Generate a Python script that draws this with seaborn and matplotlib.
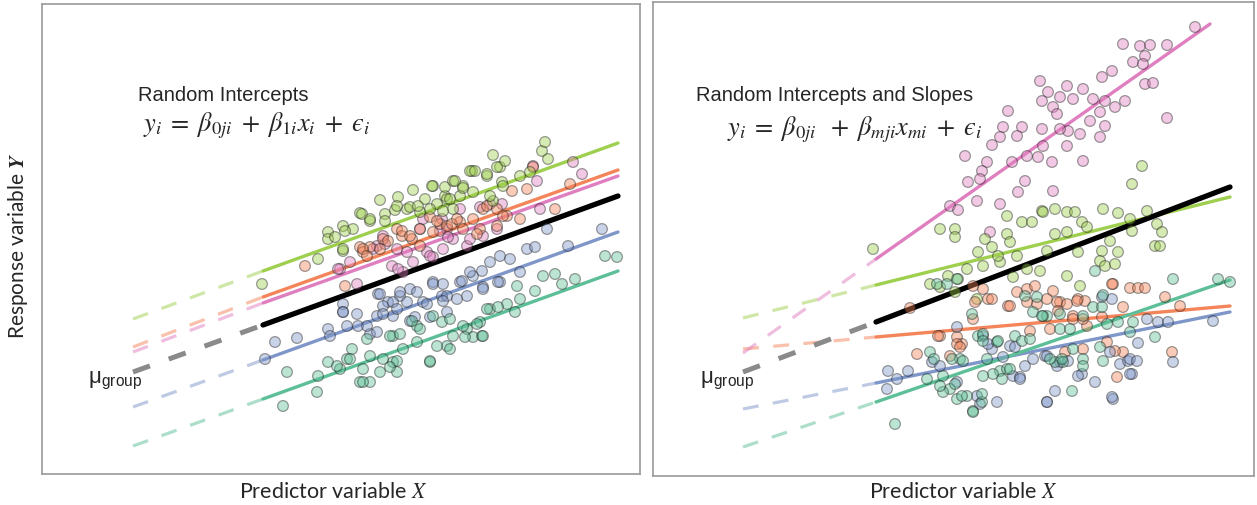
import pandas as pd
import matplotlib.pyplot as plt
import seaborn as sns

# Colores de grupo (paleta tipo Set2)
colores = {
    "green": "#9fcf4e",
    "orange": "#f4855a",
    "pink": "#e07fc0",
    "blue": "#7f96c9",
    "teal": "#5dbf97",
    "black": "#000000",
}
orden = ["green", "orange", "pink", "black", "blue", "teal"]

# ---- Panel izquierdo: interceptos aleatorios ----
# rectas: x inicio discontinuo, x inicio continuo, x final, y en esos tres puntos
izq_x_ini = [133, 133, 133, 133, 133, 133]
izq_x_med = [263, 263, 263, 263, 263, 263]
izq_x_fin = [618, 618, 618, 618, 618, 618]
izq_y_ini = [320, 348, 353, 373, 408, 447]
izq_y_med = [272, 298, 304, 326, 361, 400]
izq_y_fin = [144, 171, 177, 197, 233, 272]

izq_green = [(262, 285), (318, 260), (328, 233), (328, 240), (343, 227), (353, 230), (360, 214), (370, 222),
             (343, 252), (380, 201), (398, 198), (395, 211), (407, 210), (413, 191), (420, 213), (433, 187),
             (445, 197), (445, 188), (447, 200), (453, 182), (453, 210), (460, 197), (463, 187), (472, 172),
             (473, 193), (487, 177), (493, 156), (493, 202), (500, 168), (502, 183), (505, 162), (520, 177),
             (530, 173), (542, 152), (545, 143), (548, 160), (385, 215), (425, 200), (437, 205),
             (470, 172), (475, 172), (487, 175), (497, 168), (432, 187), (455, 182), (463, 189), (410, 208),
             (418, 207), (397, 207), (430, 210), (443, 212), (362, 215), (370, 220), (385, 222), (345, 232),
             (335, 238), (343, 250), (450, 200), (490, 197), (503, 187)]
izq_orange = [(305, 267), (345, 287), (360, 248), (363, 253), (370, 248), (383, 240), (397, 230), (402, 237),
              (412, 240), (420, 230), (433, 233), (440, 225), (447, 227), (460, 223), (473, 220), (480, 230),
              (483, 210), (497, 227), (507, 217), (512, 192), (520, 220), (527, 190), (533, 168), (555, 210),
              (570, 185), (402, 232), (410, 237), (430, 218), (437, 222), (452, 225), (457, 220), (463, 230),
              (477, 235), (487, 207), (497, 210), (503, 217), (363, 250), (367, 257), (380, 250), (420, 247),
              (388, 242)]
izq_pink = [(340, 270), (350, 263), (357, 285), (377, 247), (385, 245), (392, 267), (403, 273), (413, 263),
            (427, 253), (433, 258), (442, 220), (443, 250), (447, 230), (453, 240), (460, 210), (467, 247),
            (483, 237), (497, 230), (533, 167), (537, 182), (540, 210), (573, 163), (582, 175), (420, 230),
            (423, 220), (440, 232), (448, 238), (470, 240), (480, 208), (490, 205), (502, 205), (397, 250),
            (407, 253), (430, 257), (383, 237), (373, 250), (338, 270), (398, 270)]
izq_blue = [(265, 360), (275, 343), (297, 339), (328, 330), (343, 305), (343, 313), (358, 327), (370, 335),
            (377, 317), (378, 295), (388, 303), (393, 317), (400, 297), (410, 290), (410, 322), (423, 303),
            (433, 283), (442, 297), (447, 297), (460, 283), (467, 297), (473, 277), (483, 288), (490, 263),
            (500, 257), (500, 283), (510, 260), (520, 273), (527, 250), (535, 248), (547, 230), (568, 247),
            (602, 230), (380, 295), (400, 293), (417, 293), (433, 285), (443, 285), (462, 282), (470, 273),
            (482, 272), (498, 283), (483, 290), (383, 307), (393, 303), (407, 303), (427, 305), (443, 302),
            (457, 300), (343, 313), (357, 315), (383, 315), (397, 310), (415, 318), (430, 318), (447, 313),
            (367, 327), (377, 333), (347, 327), (330, 337)]
izq_teal = [(283, 407), (287, 373), (317, 393), (318, 377), (328, 363), (340, 370), (347, 360), (352, 350),
            (360, 383), (367, 340), (370, 383), (380, 373), (393, 363), (393, 337), (397, 373), (403, 350),
            (417, 343), (417, 327), (430, 363), (442, 323), (447, 347), (450, 350), (453, 337), (467, 330),
            (473, 338), (480, 323), (482, 337), (490, 310), (507, 305), (515, 313), (517, 287), (520, 300),
            (535, 292), (543, 277), (555, 275), (562, 285), (575, 280), (605, 257), (617, 258), (412, 322),
            (433, 317), (450, 320), (463, 327), (477, 325), (487, 310), (498, 308), (390, 337), (400, 335),
            (420, 330), (437, 347), (465, 338), (483, 337), (370, 357), (383, 360), (397, 362), (363, 370),
            (390, 368), (337, 367), (350, 360), (430, 362), (363, 383)]

# ---- Panel derecho: interceptos y pendientes aleatorias ----
der_x_ini = [743, 743, 743, 743, 743, 743]
der_x_med = [876, 876, 876, 876, 876, 876]
der_x_fin = [1230, 1230, 1210, 1230, 1230, 1230]
der_y_ini = [319, 350, 354, 373, 410, 448]
der_y_med = [286, 338, 260, 323, 384, 403]
der_y_fin = [198, 307, 25, 188, 313, 281]

der_pink = [(1195, 28), (1123, 45), (1140, 47), (1150, 46), (1167, 46), (1145, 57), (1133, 63), (1143, 65),
            (1145, 85), (1153, 84), (1112, 72), (1102, 78), (1083, 90), (1067, 87), (1040, 82), (1048, 93),
            (1060, 98), (1042, 102), (1053, 108), (1057, 115), (1073, 100), (1093, 100), (1105, 102),
            (1115, 108), (1125, 102), (1100, 113), (1090, 122), (1105, 127), (1100, 138), (1080, 135),
            (1068, 132), (1060, 130), (1067, 147), (1042, 130), (1022, 128), (1017, 137), (1003, 128),
            (1000, 138), (992, 146), (1008, 112), (1043, 147), (1027, 157), (1038, 158), (1052, 163),
            (1012, 163), (987, 163), (965, 157), (982, 172), (980, 180), (968, 183), (1025, 182), (1053, 192),
            (1018, 193), (1083, 162), (1167, 119), (977, 202), (1000, 205), (950, 207), (958, 211), (990, 233)]
der_green = [(873, 250), (940, 230), (955, 230), (955, 238), (985, 240), (978, 253), (992, 248), (1007, 235),
             (1010, 243), (1022, 223), (1032, 223), (1042, 212), (1007, 217), (930, 285), (940, 288), (948, 277),
             (958, 280), (955, 293), (967, 270), (983, 267), (1000, 263), (1013, 278), (1027, 270), (1040, 272),
             (977, 300), (998, 257), (1017, 257), (1055, 210), (1043, 213), (1067, 213), (1075, 213),
             (1082, 223), (1087, 228), (1103, 210), (1118, 214), (1130, 220), (1147, 212), (1157, 225),
             (1162, 233), (1155, 247), (1160, 247), (1055, 235), (1067, 233), (1047, 252), (1078, 253),
             (1102, 252), (1118, 253), (1110, 242), (1100, 262), (1105, 267), (1115, 265), (1067, 277),
             (1080, 287), (1132, 232), (1142, 167), (1132, 185)]
der_orange = [(917, 355), (940, 337), (957, 338), (962, 345), (950, 357), (975, 303), (983, 290), (988, 300),
              (1008, 307), (1027, 290), (1035, 287), (1037, 305), (910, 309), (973, 287), (1053, 292),
              (1047, 300), (1060, 303), (1078, 300), (1085, 302), (1113, 285), (1130, 289), (1138, 289),
              (1145, 289), (1165, 298), (1180, 307), (1172, 353), (1117, 378), (1123, 353), (1107, 343),
              (1065, 353), (1050, 330), (1087, 327), (1123, 308), (1102, 318), (1073, 317), (992, 300),
              (1017, 293), (1010, 307), (1027, 303), (1057, 303), (1067, 305), (1077, 302), (1058, 312),
              (1073, 320), (1083, 320), (1112, 285), (973, 320), (957, 345), (960, 348), (938, 337),
              (1115, 352), (1030, 332), (1083, 350)]
der_blue = [(888, 372), (897, 380), (908, 372), (887, 390), (957, 328), (983, 337), (992, 350), (1010, 347),
            (1003, 358), (1025, 367), (1033, 360), (1045, 357), (997, 403), (977, 397), (1013, 377), (1047, 403),
            (1020, 378), (957, 383), (1055, 392), (1047, 403), (1095, 383), (1113, 400), (1132, 375),
            (1120, 365), (1128, 362), (1138, 344), (1147, 320), (1158, 323), (1168, 323), (1213, 322),
            (1173, 363), (1110, 353), (1112, 300), (1102, 298), (1082, 375), (1047, 357), (1060, 363),
            (988, 345), (1015, 348), (1020, 380), (1057, 367), (1068, 362), (1078, 377), (1130, 360),
            (1137, 362), (1130, 375), (1112, 398), (980, 405), (932, 363), (940, 367)]
der_teal = [(895, 425), (973, 412), (982, 403), (957, 400), (950, 390), (967, 397), (943, 377), (927, 380),
            (930, 353), (960, 360), (972, 315), (978, 337), (997, 343), (1000, 372), (1007, 370), (1015, 337),
            (1033, 313), (1037, 298), (1047, 317), (1025, 297), (987, 360), (943, 393), (955, 385), (1173, 280),
            (1218, 280), (1230, 283), (1095, 272), (1103, 296), (1093, 308), (1133, 323), (1155, 338),
            (1073, 350), (1083, 360), (1083, 367), (1072, 392), (1055, 363), (1063, 363), (1100, 348),
            (1118, 323), (1043, 317), (1060, 315), (1107, 325), (1130, 333), (937, 285), (947, 285),
            (957, 280), (983, 335), (983, 342), (998, 342), (1022, 342), (1030, 340), (1042, 317), (1060, 330),
            (1070, 330), (1083, 317), (1102, 308), (1010, 370), (1002, 380), (993, 375), (983, 377), (963, 362),
            (952, 360), (934, 360), (940, 387), (962, 397), (982, 395), (1050, 360), (1062, 360), (1103, 362),
            (973, 413)]


def a_tabla(grupos):
    filas = []
    for nombre, pts in grupos.items():
        for x, y in pts:
            filas.append({"x": x, "y": y, "grupo": nombre})
    return pd.DataFrame(filas)


def dibujar_panel(ax, x_ini, x_med, x_fin, y_ini, y_med, y_fin, puntos):
    for i, g in enumerate(orden):
        if g == "black":
            ax.plot([x_ini[i], x_med[i]], [y_ini[i], y_med[i]], color="#8a8a8a", lw=3.6,
                    dashes=(3.6, 4.0), solid_capstyle="butt", zorder=1)
            ax.plot([x_med[i], x_fin[i]], [y_med[i], y_fin[i]], color="black", lw=3.8, zorder=3)
        else:
            ax.plot([x_ini[i], x_med[i]], [y_ini[i], y_med[i]], color=colores[g], lw=2.3, alpha=0.5,
                    dashes=(5, 4.5), zorder=1)
            ax.plot([x_med[i], x_fin[i]], [y_med[i], y_fin[i]], color=colores[g], lw=2.4, zorder=2)

    df = a_tabla(puntos)
    sns.scatterplot(data=df, x="x", y="y", hue="grupo", palette=colores, s=60, alpha=0.42,
                    edgecolor="#1a1a1a", linewidth=0.9, legend=False, ax=ax, zorder=4)
    ax.set_xticks([])
    ax.set_yticks([])
    ax.set_xlabel("")
    ax.set_ylabel("")
    for sp in ax.spines.values():
        sp.set_visible(True)
        sp.set_color("#9a9a9a")
        sp.set_linewidth(1.2)


sns.set_style("white")
plt.rcParams['font.family'] = ['Liberation Sans', 'DejaVu Sans']
plt.rcParams['mathtext.fontset'] = 'stix'

fig = plt.figure(figsize=(12.57, 5.06), dpi=100)
ax1 = fig.add_axes([42 / 1257, 31 / 506, 598 / 1257, 470 / 506])
ax2 = fig.add_axes([653 / 1257, 29 / 506, 601 / 1257, 474 / 506])

dibujar_panel(ax1, izq_x_ini, izq_x_med, izq_x_fin, izq_y_ini, izq_y_med, izq_y_fin,
              {"pink": izq_pink, "orange": izq_orange, "green": izq_green, "blue": izq_blue, "teal": izq_teal})
ax1.set_xlim(42, 640)
ax1.set_ylim(475, 5)

dibujar_panel(ax2, der_x_ini, der_x_med, der_x_fin, der_y_ini, der_y_med, der_y_fin,
              {"pink": der_pink, "green": der_green, "orange": der_orange, "blue": der_blue, "teal": der_teal})
ax2.set_xlim(653, 1254)
ax2.set_ylim(477, 3)

# Textos
formula_izq = r"$y_i\;=\;\beta_{0ji}\;+\;\beta_{1i}x_i\;+\;ϵ_i$"
formula_der = r"$y_i\;=\;\beta_{0ji}\;\;+\;\beta_{mji}x_{mi}\;+\;ϵ_i$"

ax1.text(138, 96, "Random Intercepts", fontsize=14.5, va="center", ha="left")
ax1.text(143, 126, formula_izq, fontsize=19, va="center", ha="left")
ax1.text(88, 380, r"μ$_{\mathregular{group}}$", fontsize=16, va="center", ha="left")

ax2.text(696, 95, "Random Intercepts and Slopes", fontsize=14.5, va="center", ha="left")
ax2.text(727, 130, formula_der, fontsize=19, va="center", ha="left")
ax2.text(700, 380, r"μ$_{\mathregular{group}}$", fontsize=16, va="center", ha="left")

fig.text(18 / 1257, 1 - 246 / 506, r"Response variable $\mathbfit{Y}$", rotation=90, fontsize=15,
         family="Lato", va="center", ha="center")
fig.text(333 / 1257, 1 - 492 / 506, r"Predictor variable $X$", fontsize=15.5, family="Lato",
         va="center", ha="center")
fig.text(963 / 1257, 1 - 492 / 506, r"Predictor variable $X$", fontsize=15.5, family="Lato",
         va="center", ha="center")

fig.savefig("out.png", dpi=100)
plt.close()
